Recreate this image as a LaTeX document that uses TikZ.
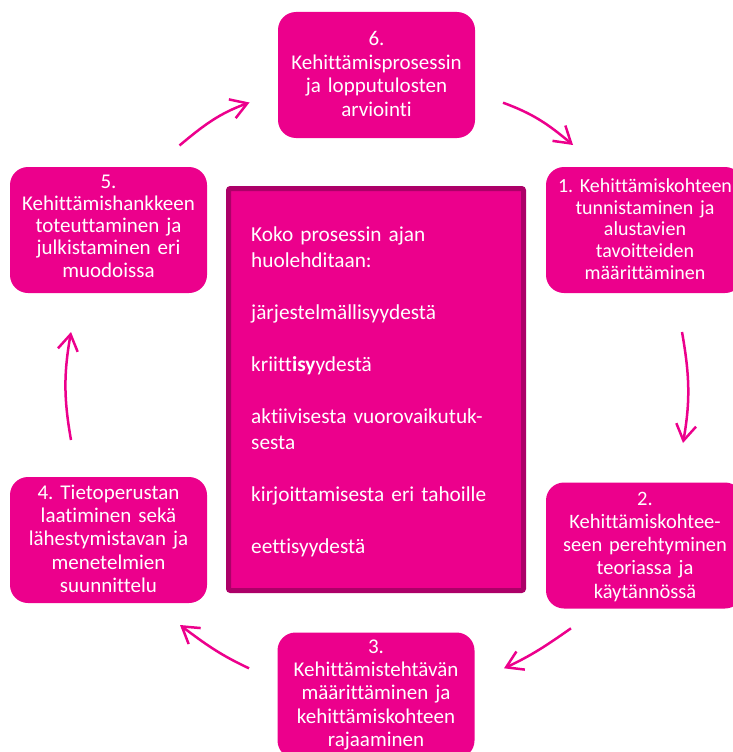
\documentclass[tikz,border=0pt]{standalone}
\usepackage{fontspec}
\setmainfont{Carlito}[Ligatures=NoCommon]
\usetikzlibrary{arrows.meta}
\definecolor{mag}{RGB}{236,0,140}
\definecolor{magdark}{RGB}{172,0,104}
\frenchspacing
\begin{document}
\begin{tikzpicture}[x=1pt,y=1pt,
  stepbox/.style={fill=mag, rounded corners=18pt, minimum width=197pt, minimum height=126pt, inner sep=0pt},
  steptext/.style={text=white, text width=200pt, align=center, inner sep=0pt, anchor=base},
  flow/.style={draw=mag, line width=2.5pt, -{Straight Barb[length=16pt,width=20pt]}}]
\useasboundingbox (0,0) rectangle (733,-752);

% step boxes
\node[stepbox] (s6) at (376.5,-75) {};
\node[stepbox] (s1) at (644.5,-230) {};
\node[stepbox] (s5) at (108.5,-230) {};
\node[stepbox] (s2) at (644.5,-545.5) {};
\node[stepbox] (s4) at (108.5,-540) {};
\node[stepbox] (s3) at (376,-695.5) {};

\node[steptext, font=\fontsize{21pt}{23.6pt}\selectfont] (t6) at (376.5,-45.7)
  {6.\\Kehittämisprosessin\\ja lopputulosten\\arviointi};
\node[steptext, font=\fontsize{20pt}{21.7pt}\selectfont] (t1) at (645,-192.3)
  {1. Kehittämiskohteen\\tunnistaminen ja\\alustavien\\tavoitteiden\\määrittäminen};
\node[steptext, font=\fontsize{21pt}{22.3pt}\selectfont] (t5) at (108.5,-188)
  {5.\\Kehittämishankkeen\\toteuttaminen ja\\julkistaminen eri\\muodoissa};
\node[steptext, font=\fontsize{20.5pt}{23.3pt}\selectfont] (t2) at (645,-505)
  {2.\\Kehittämiskohtee-\\seen perehtyminen\\teoriassa ja\\käytännössä};
\node[steptext, font=\fontsize{21pt}{23.4pt}\selectfont] (t4) at (108.5,-499)
  {4. Tietoperustan\\laatiminen sekä\\lähestymistavan ja\\menetelmien\\suunnittelu};
\node[steptext, font=\fontsize{21pt}{23.4pt}\selectfont] (t3) at (376,-653)
  {3.\\Kehittämistehtävän\\määrittäminen ja\\kehittämiskohteen\\rajaaminen};

% central box
\node[draw=magdark, line width=5pt, fill=mag, minimum width=295pt, minimum height=402pt,
  rounded corners=2pt, inner sep=0pt] (core) at (376,-389.5) {};
\node[anchor=base west, text width=270pt, align=left, text=white, inner sep=0pt,
  font=\fontsize{21.3pt}{26pt}\selectfont] (coretext) at (251,-241.7)
  {Koko prosessin ajan\\huolehditaan:\\[26pt]järjestelmällisyydestä\\[26pt]kriitt\textbf{isy}ydestä\\[26pt]aktiivisesta vuorovaikutuk-\\sesta\\[26pt]kirjoittamisesta eri tahoille\\[26pt]eettisyydestä};

% arrows
\coordinate (a1s) at (503,-102.7); \coordinate (a1e) at (573,-145);
\coordinate (a2s) at (571,-628.3); \coordinate (a2e) at (504,-668.3);
\coordinate (a3s) at (249,-668.3); \coordinate (a3e) at (180,-625);
\coordinate (a4s) at (179.5,-145.5); \coordinate (a4e) at (249.5,-102.5);
\coordinate (a5s) at (682,-332); \coordinate (a5e) at (683,-443);
\coordinate (a6s) at (71,-440); \coordinate (a6e) at (71,-332);

\draw[flow] (a1s) to[out=-20,in=140] (a1e);
\draw[flow] (a2s) to[out=215,in=25] (a2e);
\draw[flow] (a3s) to[out=155,in=323] (a3e);
\draw[flow] (a4s) to[out=40,in=200] (a4e);
\draw[flow] (a5s) to[out=280,in=80] (a5e);
\draw[flow] (a6s) to[out=100,in=260] (a6e);
\end{tikzpicture}
\end{document}
